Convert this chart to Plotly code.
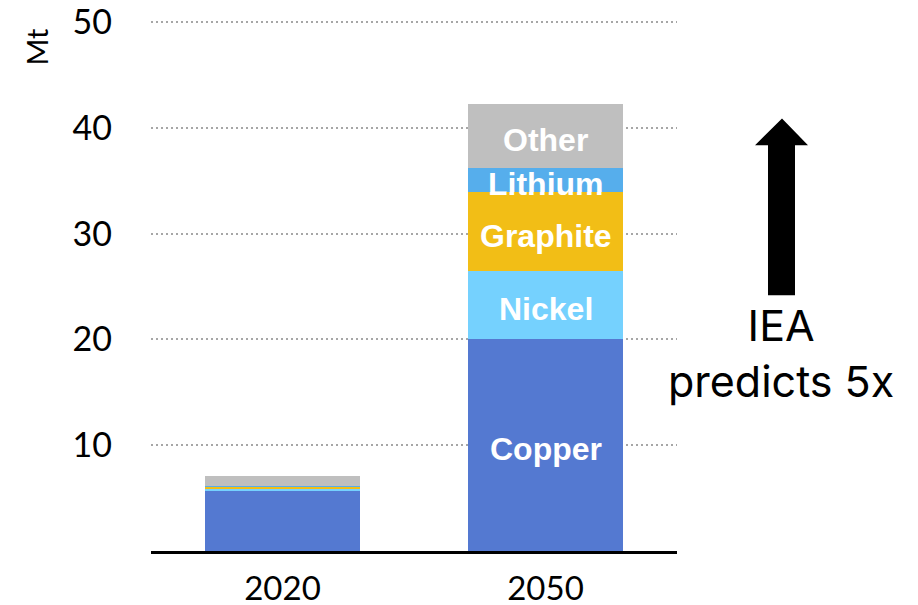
import plotly.graph_objects as go

years = ["2020", "2050"]
minerals = ["Copper", "Nickel", "Graphite", "Lithium", "Other"]
copper = [5.65, 20.0]
nickel = [0.28, 6.5]
graphite = [0.14, 7.4]
lithium = [0.05, 2.3]
other = [1.0, 6.05]
colors = ["#5479d1", "#75d1fe", "#f2be16", "#56aeec", "#bfbfbf"]
y_ticks = [10, 20, 30, 40, 50]

series = [copper, nickel, graphite, lithium, other]

# page body has an 8px margin; compensate so the chart lands where the reference has it
OFF = 8
YMAX = 50.3
W, H = 918 - OFF, 605 - OFF
Y0_SCREEN, Y50_SCREEN = 551.0, 21.7
unit = (Y0_SCREEN - Y50_SCREEN) / 50.0
TOP_SCREEN = Y0_SCREEN - unit * YMAX
ML, MT = 151 - OFF, TOP_SCREEN - OFF
PR, PB = 677 - OFF, Y0_SCREEN - OFF
MR, MB = W - PR, H - PB
PW, PH = W - ML - MR, H - MT - MB


def px(x):
    return (x - OFF - ML) / PW


def py(y):
    return (H - MB - (y - OFF)) / PH


fig = go.Figure()
for name, vals, col in zip(minerals, series, colors):
    fig.add_trace(go.Bar(x=years, y=vals, name=name, marker=dict(color=col, line=dict(width=0))))

# labels on the 2050 bar, at segment midpoints
annotations = []
base = 0.0
idx2050 = years.index("2050")
for name, vals in zip(minerals, series):
    v = vals[idx2050]
    annotations.append(dict(
        x=idx2050, y=base + v / 2, xref="x", yref="y", text=name, showarrow=False,
        xanchor="center", yanchor="middle", yshift=-4,
        font=dict(family="Liberation Sans", size=32, color="white", weight="bold"),
    ))
    base += v

annotations.append(dict(
    x=px(36), y=py(46), xref="paper", yref="paper", text="Mt", textangle=-90,
    xanchor="center", yanchor="middle",
    showarrow=False, font=dict(family="Lato", size=29, color="black"),
))
annotations.append(dict(
    x=px(781), y=py(353), xref="paper", yref="paper",
    xanchor="center", yanchor="middle",
    text="IEA<br>predicts 5x", showarrow=False, align="center",
    font=dict(family="Inter", size=43, color="black"),
))

# arrow shape
pts = [(782, 118), (808, 145), (795, 145), (795, 295), (768, 295), (768, 145), (755, 145)]
path = "M " + " L ".join(f"{px(x):.5f},{py(y):.5f}" for x, y in pts) + " Z"

fig.update_layout(
    width=W, height=H,
    margin=dict(l=ML, r=MR, t=MT, b=MB, pad=0),
    barmode="stack",
    bargap=0.41,
    showlegend=False,
    plot_bgcolor="white",
    paper_bgcolor="white",
    annotations=annotations,
    shapes=[dict(type="path", path=path, xref="paper", yref="paper",
                 fillcolor="black", line=dict(width=0))],
    xaxis=dict(
        type="category", range=[-0.5, 1.5], automargin=False,
        showline=True, linecolor="black", linewidth=3, showgrid=False,
        ticks="", ticklabelstandoff=6, ticklabeloverflow="allow",
        tickfont=dict(family="Lato", size=33, color="black"),
    ),
    yaxis=dict(
        range=[0, YMAX], tickvals=y_ticks, showline=False, zeroline=False,
        automargin=False, ticklabeloverflow="allow",
        showgrid=True, gridcolor="#a6a6a6", gridwidth=2, griddash="2px,3px",
        ticks="", ticklabelstandoff=38,
        tickfont=dict(family="Lato", size=34, color="black"),
    ),
)

fig.write_html("out.html")
